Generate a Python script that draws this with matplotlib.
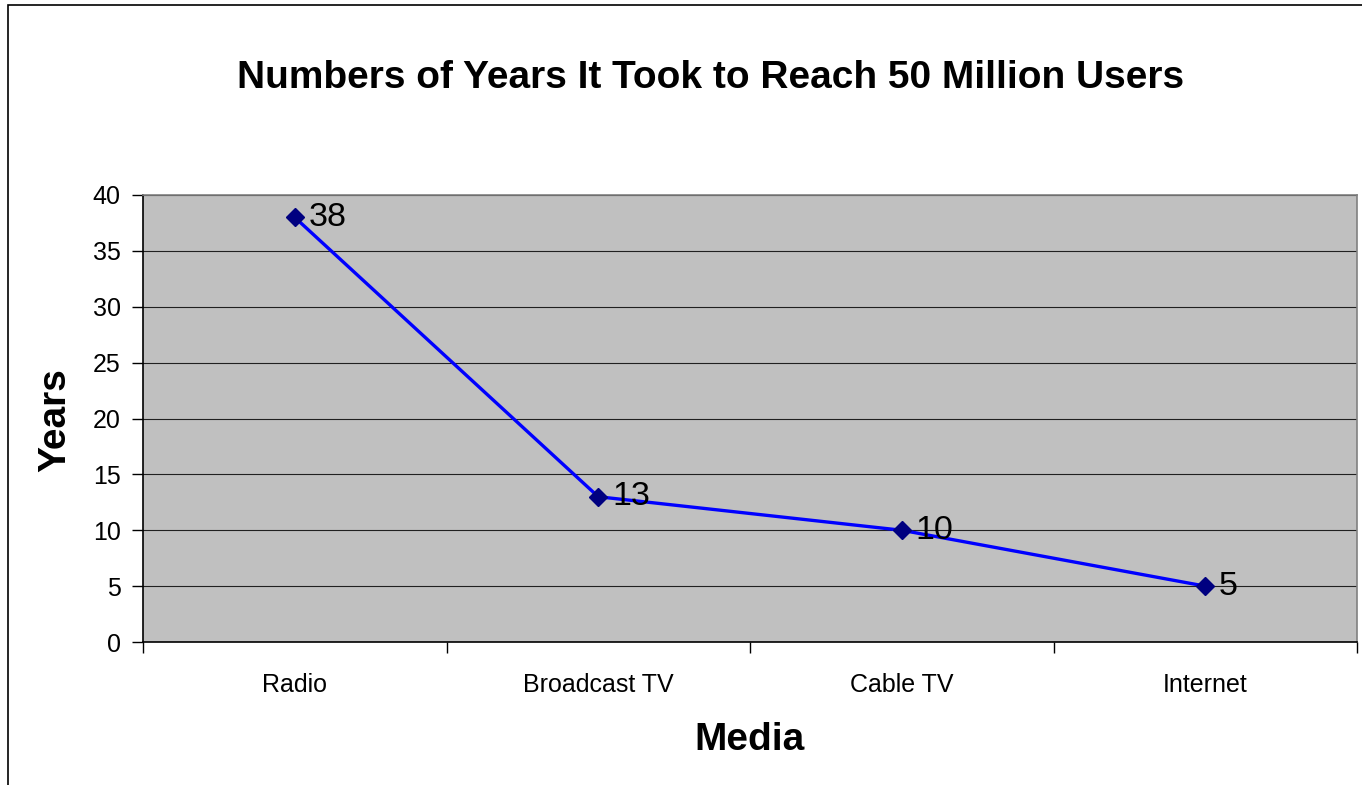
import matplotlib
matplotlib.use("Agg")
import matplotlib.pyplot as plt
from matplotlib.patches import Rectangle

categories = ["Radio", "Broadcast TV", "Cable TV", "Internet"]
years = [38, 13, 10, 5]
yticks = [0, 5, 10, 15, 20, 25, 30, 35, 40]

W, H = 1362, 785
plt.rcParams['font.family'] = ['Liberation Sans', 'DejaVu Sans']
fig = plt.figure(figsize=(W / 100, H / 100), dpi=100)

# outer chart frame
fig.patches.append(Rectangle((8 / W, -0.1), 1.2, (H - 5) / H + 0.1, transform=fig.transFigure,
                             fill=False, edgecolor='black', linewidth=1.2))

left, right, top, bottom = 143, 1357, 195, 642
ax = fig.add_axes([left / W, 1 - bottom / H, (right - left) / W, (bottom - top) / H])
ax.set_facecolor('#C0C0C0')
x = list(range(len(categories)))
ax.set_xlim(-0.5, len(categories) - 0.5)
ax.set_ylim(0, 40)
ax.set_yticks(yticks)
ax.set_yticklabels([str(v) for v in yticks], fontsize=18)
ax.yaxis.grid(True, color='#202020', linewidth=0.8)
ax.set_axisbelow(True)
ax.set_xticks([i - 0.5 for i in range(len(categories) + 1)])
ax.set_xticklabels([])
ax.set_xticks(x, minor=True)
ax.set_xticklabels(categories, minor=True, fontsize=18)
ax.tick_params(axis='x', which='minor', length=0, pad=22)
ax.tick_params(axis='x', which='major', length=8, direction='out', width=1)
ax.tick_params(axis='y', length=8, direction='out', width=1, pad=8)
for s in ['top', 'right']:
    ax.spines[s].set_color('#808080')
    ax.spines[s].set_linewidth(1.2)
for s in ['left', 'bottom']:
    ax.spines[s].set_color('black')
    ax.spines[s].set_linewidth(1.2)

ax.plot(x, years, color='#0000FF', linewidth=2.4, marker='D', markersize=9.5,
        markerfacecolor='#000080', markeredgecolor='#000080', zorder=3)
for xi, yi in zip(x, years):
    ax.annotate(str(yi), (xi, yi), xytext=(10, 0), textcoords='offset points',
                va='center', ha='left', fontsize=24.5, color='black')

fig.text(711 / W, 1 - 78 / H, "Numbers of Years It Took to Reach 50 Million Users",
         ha='center', va='center', fontsize=28, fontweight='bold')
fig.text(55 / W, 1 - 420 / H, "Years", ha='center', va='center', rotation=90,
         fontsize=28, fontweight='bold')
fig.text(750 / W, 1 - 740 / H, "Media", ha='center', va='center',
         fontsize=28, fontweight='bold')

fig.savefig("out.png", dpi=100)
